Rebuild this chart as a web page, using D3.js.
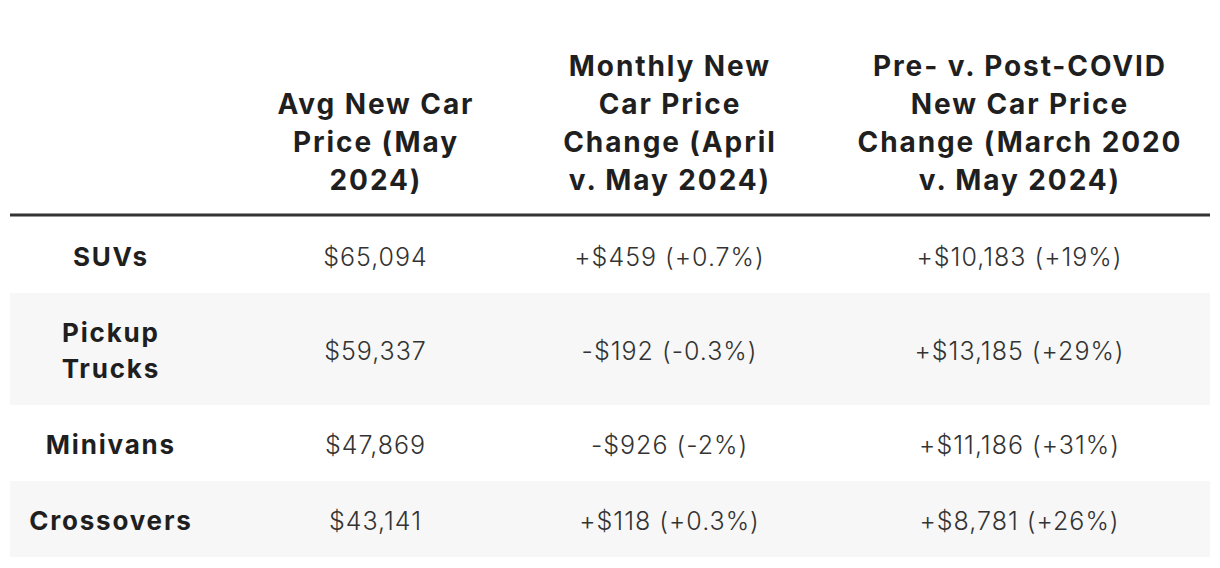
<!DOCTYPE html>
<html>
<head>
<meta charset="utf-8">
<script src="https://cdn.jsdelivr.net/npm/d3@7"></script>
<style>
  html, body { margin: 0; padding: 0; background: #fff; }
  svg { display: block; }
</style>
</head>
<body>
<svg id="chart" width="1220" height="568"></svg>
<script>
// ---- data ----
const columns = ["label", "avg", "monthly", "covid"];
const headerLines = [
  [],
  ["Avg New Car", "Price (May", "2024)"],
  ["Monthly New", "Car Price", "Change (April", "v. May 2024)"],
  ["Pre- v. Post-COVID", "New Car Price", "Change (March 2020", "v. May 2024)"]
];
const categories = ["SUVs", "Pickup Trucks", "Minivans", "Crossovers"];
const categoryLines = [["SUVs"], ["Pickup", "Trucks"], ["Minivans"], ["Crossovers"]];
const avgPrice = [65094, 59337, 47869, 43141];
const monthlyChange = [459, -192, -926, 118];
const monthlyPct = [0.7, -0.3, -2, 0.3];
const covidChange = [10183, 13185, 11186, 8781];
const covidPct = [19, 29, 31, 26];

// ---- layout ----
const svg = d3.select("#chart");
const left = 10, right = 1210;
const x = d3.scaleOrdinal().domain(columns).range([110, 375, 669, 1019]);

const fontFamily = "Inter, 'Open Sans', sans-serif";
const headFont = 28, headLine = 38, headLastBase = 190, headLS = 1.9;
const bodyFont = 25, bodyLine = 36, bodyLS = 1.0;
const labelFont = 26, labelLS = 1.8;

const money = d3.format(",");
const signed = v => (v < 0 ? "-" : "+") + "$" + money(Math.abs(v));
const pct = v => (v < 0 ? "-" : "+") + Math.abs(v) + "%";

// header
const headG = svg.append("g");
headerLines.forEach((lines, ci) => {
  const n = lines.length;
  lines.forEach((t, li) => {
    headG.append("text")
      .attr("x", x(columns[ci]) + headLS / 2)
      .attr("y", headLastBase - (n - 1 - li) * headLine)
      .attr("text-anchor", "middle")
      .attr("font-family", fontFamily)
      .attr("font-weight", 700)
      .attr("font-size", headFont)
      .attr("letter-spacing", headLS)
      .attr("fill", "#1f1f1f")
      .text(t);
  });
});

// rule
const ruleY = 215;
svg.append("line")
  .attr("x1", left).attr("x2", right)
  .attr("y1", ruleY).attr("y2", ruleY)
  .attr("stroke", "#333").attr("stroke-width", 3);

// rows
const rows = categories.map((c, i) => ({
  lines: categoryLines[i],
  cells: [
    "$" + money(avgPrice[i]),
    signed(monthlyChange[i]) + " (" + pct(monthlyPct[i]) + ")",
    signed(covidChange[i]) + " (" + pct(covidPct[i]) + ")"
  ]
}));
let y0 = ruleY + 2;
rows.forEach((r, i) => {
  const h = 40 + bodyLine * r.lines.length;
  const g = svg.append("g").attr("transform", `translate(0,${y0})`);
  if (i % 2 === 1) {
    g.append("rect").attr("x", left).attr("width", right - left)
      .attr("y", 0).attr("height", h).attr("fill", "#f7f7f7");
  }
  const cy = h / 2 + 2;
  const n = r.lines.length;
  r.lines.forEach((t, li) => {
    g.append("text")
      .attr("x", x("label") + labelLS / 2)
      .attr("y", cy + (li - (n - 1) / 2) * bodyLine)
      .attr("dy", "0.36em")
      .attr("text-anchor", "middle")
      .attr("font-family", fontFamily)
      .attr("font-weight", 700)
      .attr("font-size", labelFont)
      .attr("letter-spacing", labelLS)
      .attr("fill", "#1f1f1f")
      .text(t);
  });
  r.cells.forEach((t, k) => {
    g.append("text")
      .attr("x", x(columns[k + 1]) + bodyLS / 2)
      .attr("y", cy)
      .attr("dy", "0.36em")
      .attr("text-anchor", "middle")
      .attr("font-family", fontFamily)
      .attr("font-weight", 300)
      .attr("font-size", bodyFont)
      .attr("letter-spacing", bodyLS)
      .attr("fill", "#333")
      .text(t);
  });
  y0 += h;
});
</script>
</body>
</html>
